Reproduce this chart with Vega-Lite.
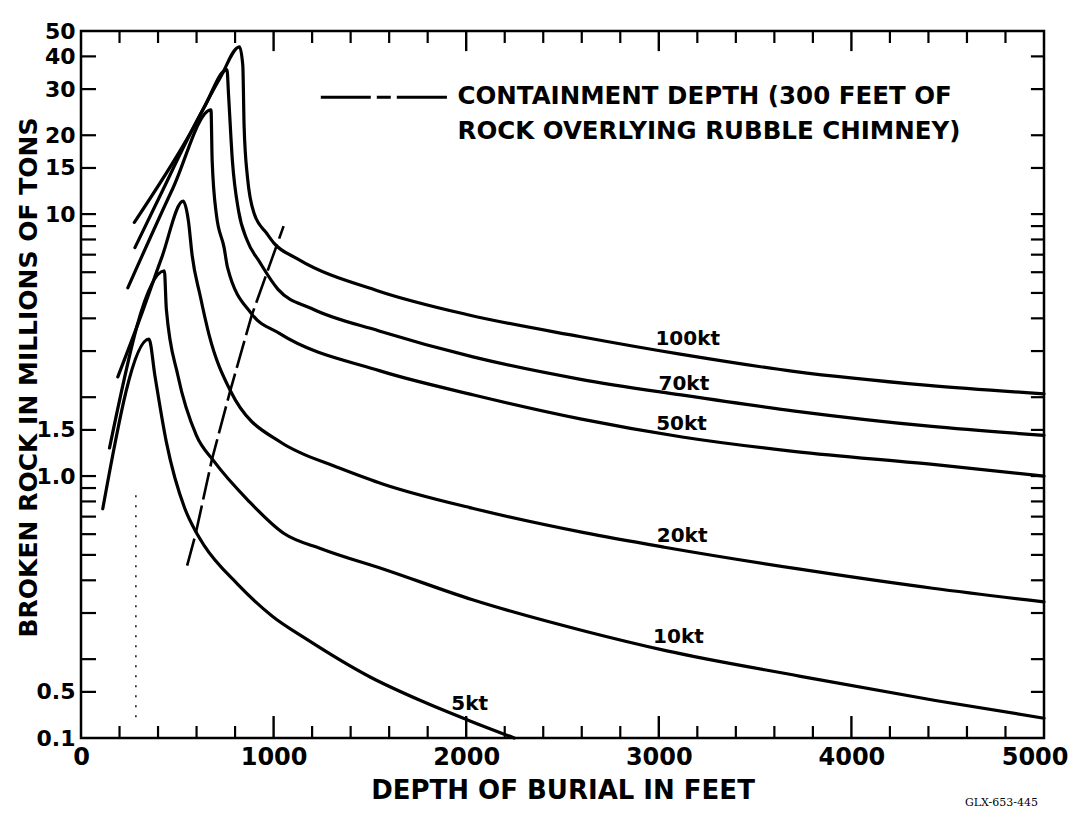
{
  "$schema": "https://vega.github.io/schema/vega-lite/v6.json",
  "width": 963,
  "height": 707,
  "autosize": {"type": "none"},
  "padding": {"left": 81, "top": 31, "right": 28, "bottom": 75},
  "background": "white",
  "title": {"text": "GLX-653-445", "orient": "bottom", "anchor": "end", "fontSize": 11, "fontWeight": "normal", "font": "DejaVu Serif", "color": "black", "offset": -6, "dx": -30},
  "config": {
    "view": {"stroke": "black", "strokeWidth": 2.5},
    "axis": {"domain": false, "grid": false, "ticks": false, "labelColor": "black", "titleColor": "black", "labelFont": "DejaVu Sans", "titleFont": "DejaVu Sans", "labelFontWeight": "bold", "titleFontWeight": "bold", "labelOverlap": false, "labelBound": false, "zindex": 1}
  },
  "datasets": {
    "curves": [
      {"s": "100kt", "i": 0, "x": 277, "y": 9.3},
      {"s": "100kt", "i": 1, "x": 553, "y": 19.5},
      {"s": "100kt", "i": 2, "x": 723, "y": 33.2},
      {"s": "100kt", "i": 3, "x": 823, "y": 43.5},
      {"s": "100kt", "i": 4, "x": 840, "y": 37},
      {"s": "100kt", "i": 5, "x": 847, "y": 21.5},
      {"s": "100kt", "i": 6, "x": 864, "y": 13.9},
      {"s": "100kt", "i": 7, "x": 900, "y": 10.0},
      {"s": "100kt", "i": 8, "x": 965, "y": 8.43},
      {"s": "100kt", "i": 9, "x": 1003, "y": 7.73},
      {"s": "100kt", "i": 10, "x": 1124, "y": 6.75},
      {"s": "100kt", "i": 11, "x": 1543, "y": 5.09},
      {"s": "100kt", "i": 12, "x": 2014, "y": 4.12},
      {"s": "100kt", "i": 13, "x": 2589, "y": 3.41},
      {"s": "100kt", "i": 14, "x": 3111, "y": 2.92},
      {"s": "100kt", "i": 15, "x": 3700, "y": 2.51},
      {"s": "100kt", "i": 16, "x": 4399, "y": 2.22},
      {"s": "100kt", "i": 17, "x": 5000, "y": 2.06},

      {"s": "70kt", "i": 0, "x": 280, "y": 7.45},
      {"s": "70kt", "i": 1, "x": 389, "y": 10.9},
      {"s": "70kt", "i": 2, "x": 638, "y": 25.4},
      {"s": "70kt", "i": 3, "x": 758, "y": 35.6},
      {"s": "70kt", "i": 4, "x": 766, "y": 28.6},
      {"s": "70kt", "i": 5, "x": 786, "y": 16.0},
      {"s": "70kt", "i": 6, "x": 818, "y": 10.3},
      {"s": "70kt", "i": 7, "x": 862, "y": 7.96},
      {"s": "70kt", "i": 8, "x": 927, "y": 6.57},
      {"s": "70kt", "i": 9, "x": 1023, "y": 5.16},
      {"s": "70kt", "i": 10, "x": 1197, "y": 4.36},
      {"s": "70kt", "i": 11, "x": 1548, "y": 3.58},
      {"s": "70kt", "i": 12, "x": 2035, "y": 2.85},
      {"s": "70kt", "i": 13, "x": 2594, "y": 2.34},
      {"s": "70kt", "i": 14, "x": 3116, "y": 2.04},
      {"s": "70kt", "i": 15, "x": 3706, "y": 1.77},
      {"s": "70kt", "i": 16, "x": 4404, "y": 1.55},
      {"s": "70kt", "i": 17, "x": 5000, "y": 1.43},

      {"s": "50kt", "i": 0, "x": 243, "y": 5.23},
      {"s": "50kt", "i": 1, "x": 476, "y": 12.5},
      {"s": "50kt", "i": 2, "x": 675, "y": 25.0},
      {"s": "50kt", "i": 3, "x": 681, "y": 16.0},
      {"s": "50kt", "i": 4, "x": 703, "y": 9.95},
      {"s": "50kt", "i": 5, "x": 743, "y": 7.45},
      {"s": "50kt", "i": 6, "x": 761, "y": 6.25},
      {"s": "50kt", "i": 7, "x": 886, "y": 4.16},
      {"s": "50kt", "i": 8, "x": 1028, "y": 3.51},
      {"s": "50kt", "i": 9, "x": 1553, "y": 2.52},
      {"s": "50kt", "i": 10, "x": 2039, "y": 2.04},
      {"s": "50kt", "i": 11, "x": 2599, "y": 1.65},
      {"s": "50kt", "i": 12, "x": 3121, "y": 1.41},
      {"s": "50kt", "i": 13, "x": 3710, "y": 1.24},
      {"s": "50kt", "i": 14, "x": 4411, "y": 1.11},
      {"s": "50kt", "i": 15, "x": 5000, "y": 1.0},

      {"s": "20kt", "i": 0, "x": 191, "y": 2.39},
      {"s": "20kt", "i": 1, "x": 314, "y": 4.14},
      {"s": "20kt", "i": 2, "x": 420, "y": 6.85},
      {"s": "20kt", "i": 3, "x": 530, "y": 11.2},
      {"s": "20kt", "i": 4, "x": 558, "y": 9.38},
      {"s": "20kt", "i": 5, "x": 577, "y": 6.96},
      {"s": "20kt", "i": 6, "x": 618, "y": 4.91},
      {"s": "20kt", "i": 7, "x": 665, "y": 3.46},
      {"s": "20kt", "i": 8, "x": 775, "y": 2.12},
      {"s": "20kt", "i": 9, "x": 1041, "y": 1.34},
      {"s": "20kt", "i": 10, "x": 1146, "y": 1.22},
      {"s": "20kt", "i": 11, "x": 1304, "y": 1.10},
      {"s": "20kt", "i": 12, "x": 1566, "y": 0.933},
      {"s": "20kt", "i": 13, "x": 2037, "y": 0.752},
      {"s": "20kt", "i": 14, "x": 2612, "y": 0.608},
      {"s": "20kt", "i": 15, "x": 3029, "y": 0.535},
      {"s": "20kt", "i": 16, "x": 3724, "y": 0.442},
      {"s": "20kt", "i": 17, "x": 4422, "y": 0.373},
      {"s": "20kt", "i": 18, "x": 5000, "y": 0.331},

      {"s": "10kt", "i": 0, "x": 148, "y": 1.28},
      {"s": "10kt", "i": 1, "x": 433, "y": 6.07},
      {"s": "10kt", "i": 2, "x": 443, "y": 4.35},
      {"s": "10kt", "i": 3, "x": 503, "y": 2.42},
      {"s": "10kt", "i": 4, "x": 599, "y": 1.43},
      {"s": "10kt", "i": 5, "x": 690, "y": 1.14},
      {"s": "10kt", "i": 6, "x": 866, "y": 0.81},
      {"s": "10kt", "i": 7, "x": 1052, "y": 0.605},
      {"s": "10kt", "i": 8, "x": 1250, "y": 0.527},
      {"s": "10kt", "i": 9, "x": 1576, "y": 0.44},
      {"s": "10kt", "i": 10, "x": 2033, "y": 0.337},
      {"s": "10kt", "i": 11, "x": 2623, "y": 0.255},
      {"s": "10kt", "i": 12, "x": 3042, "y": 0.215},
      {"s": "10kt", "i": 13, "x": 3736, "y": 0.172},
      {"s": "10kt", "i": 14, "x": 4436, "y": 0.139},
      {"s": "10kt", "i": 15, "x": 5000, "y": 0.119},

      {"s": "5kt", "i": 0, "x": 113, "y": 0.75},
      {"s": "5kt", "i": 1, "x": 353, "y": 3.33},
      {"s": "5kt", "i": 2, "x": 384, "y": 2.41},
      {"s": "5kt", "i": 3, "x": 443, "y": 1.35},
      {"s": "5kt", "i": 4, "x": 539, "y": 0.752},
      {"s": "5kt", "i": 5, "x": 595, "y": 0.615},
      {"s": "5kt", "i": 6, "x": 638, "y": 0.545},
      {"s": "5kt", "i": 7, "x": 814, "y": 0.386},
      {"s": "5kt", "i": 8, "x": 995, "y": 0.291},
      {"s": "5kt", "i": 9, "x": 1169, "y": 0.239},
      {"s": "5kt", "i": 10, "x": 1501, "y": 0.171},
      {"s": "5kt", "i": 11, "x": 1763, "y": 0.139},
      {"s": "5kt", "i": 12, "x": 2010, "y": 0.117},
      {"s": "5kt", "i": 13, "x": 2250, "y": 0.1}
    ],
    "containment": [
      {"i": 0, "x": 551, "y": 0.455},
      {"i": 1, "x": 595, "y": 0.6},
      {"i": 2, "x": 679, "y": 1.15},
      {"i": 3, "x": 775, "y": 2.12},
      {"i": 4, "x": 886, "y": 4.1},
      {"i": 5, "x": 1052, "y": 9.0}
    ],
    "dotted": [
      {"x": 285, "y": 0.12, "y2": 0.9}
    ],
    "legendLine": [
      {"x": 1245, "x2": 1900, "y": 27.9}
    ],
    "curveLabels": [
      {"label": "100kt", "x": 3150, "y": 3.17},
      {"label": "70kt", "x": 3130, "y": 2.13},
      {"label": "50kt", "x": 3118, "y": 1.50},
      {"label": "20kt", "x": 3121, "y": 0.558},
      {"label": "10kt", "x": 3102, "y": 0.230},
      {"label": "5kt", "x": 2018, "y": 0.128}
    ],
    "legendText": [
      {"label": "CONTAINMENT DEPTH (300 FEET OF", "x": 1955, "y": 28},
      {"label": "ROCK OVERLYING RUBBLE CHIMNEY)", "x": 1955, "y": 20.6}
    ],
    "xMinorTicks": [
      {"v": 200}, {"v": 400}, {"v": 600}, {"v": 800}, {"v": 1200}, {"v": 1400}, {"v": 1600}, {"v": 1800},
      {"v": 2200}, {"v": 2400}, {"v": 2600}, {"v": 2800}, {"v": 3200}, {"v": 3400}, {"v": 3600}, {"v": 3800},
      {"v": 4200}, {"v": 4400}, {"v": 4600}, {"v": 4800}
    ],
    "xMajorTicks": [
      {"v": 1000}, {"v": 2000}, {"v": 3000}, {"v": 4000}
    ],
    "yTicks": [
      {"v": 40}, {"v": 30}, {"v": 20}, {"v": 15}, {"v": 10}, {"v": 9}, {"v": 8}, {"v": 7}, {"v": 6}, {"v": 5},
      {"v": 4}, {"v": 3}, {"v": 2}, {"v": 1.5}, {"v": 1}, {"v": 0.9}, {"v": 0.8}, {"v": 0.7}, {"v": 0.6}, {"v": 0.5},
      {"v": 0.4}, {"v": 0.3}, {"v": 0.2}, {"v": 0.15}
    ]
  },
  "resolve": {"axis": {"x": "independent", "y": "independent"}},
  "layer": [
    {
      "data": {"name": "curves"},
      "mark": {"type": "line", "color": "black", "strokeWidth": 3.2, "interpolate": "monotone", "strokeCap": "round", "strokeJoin": "round"},
      "encoding": {
        "x": {"field": "x", "type": "quantitative", "scale": {"domain": [0, 5000], "nice": false, "zero": false},
          "axis": {"orient": "bottom", "values": [0, 1000, 2000, 3000, 4000], "format": "d", "labelPadding": 7, "labelFontSize": 24, "labelFlush": false, "title": "DEPTH OF BURIAL IN FEET", "titleFontSize": 26, "titlePadding": 8}},
        "y": {"field": "y", "type": "quantitative", "scale": {"type": "log", "domain": [0.1, 50], "nice": false},
          "axis": {"orient": "left", "values": [50, 40, 30, 20, 15, 10, 1.5, 1, 0.15, 0.1],
            "labelExpr": "indexof([50,40,30,20,15,10], datum.value) >= 0 ? '' + datum.value : datum.value == 1.5 ? '1.5' : datum.value == 1 ? '1.0' : datum.value == 0.15 ? '0.5' : datum.value == 0.1 ? '0.1' : ''",
            "labelFlush": false, "labelPadding": 6, "labelFontSize": 22, "title": "BROKEN ROCK IN MILLIONS OF TONS", "titleFontSize": 25, "titleX": -40, "titleY": 346}},
        "detail": {"field": "s"},
        "order": {"field": "i"}
      }
    },
    {
      "data": {"name": "curves"},
      "mark": {"type": "point", "opacity": 0},
      "encoding": {
        "x": {"field": "x", "type": "quantitative", "scale": {"domain": [0, 5000], "nice": false, "zero": false},
          "axis": {"orient": "bottom", "values": [0, 5000], "labelPadding": 7, "labelFontSize": 24, "labelExpr": "datum.value == 5000 ? '5000' : ''", "labelFlush": true, "labelFlushOffset": 24, "title": null}},
        "y": {"field": "y", "type": "quantitative", "scale": {"type": "log", "domain": [0.1, 50], "nice": false}, "axis": null}
      }
    },
    {
      "data": {"name": "xMinorTicks"},
      "mark": {"type": "rule", "color": "black", "strokeWidth": 2.2},
      "encoding": {
        "x": {"field": "v", "type": "quantitative", "scale": {"domain": [0, 5000], "nice": false, "zero": false}, "axis": null},
        "y": {"datum": 0.1, "type": "quantitative", "scale": {"type": "log", "domain": [0.1, 50], "nice": false}, "axis": null},
        "y2": {"datum": 0.1111}
      }
    },
    {
      "data": {"name": "xMajorTicks"},
      "mark": {"type": "rule", "color": "black", "strokeWidth": 2.4},
      "encoding": {
        "x": {"field": "v", "type": "quantitative", "scale": {"domain": [0, 5000], "nice": false, "zero": false}, "axis": null},
        "y": {"datum": 0.1, "type": "quantitative", "scale": {"type": "log", "domain": [0.1, 50], "nice": false}, "axis": null},
        "y2": {"datum": 0.1213}
      }
    },
    {
      "data": {"name": "xMinorTicks"},
      "mark": {"type": "rule", "color": "black", "strokeWidth": 2.2},
      "encoding": {
        "x": {"field": "v", "type": "quantitative", "scale": {"domain": [0, 5000], "nice": false, "zero": false}, "axis": null},
        "y": {"datum": 50, "type": "quantitative", "scale": {"type": "log", "domain": [0.1, 50], "nice": false}, "axis": null},
        "y2": {"datum": 45.0}
      }
    },
    {
      "data": {"name": "xMajorTicks"},
      "mark": {"type": "rule", "color": "black", "strokeWidth": 2.4},
      "encoding": {
        "x": {"field": "v", "type": "quantitative", "scale": {"domain": [0, 5000], "nice": false, "zero": false}, "axis": null},
        "y": {"datum": 50, "type": "quantitative", "scale": {"type": "log", "domain": [0.1, 50], "nice": false}, "axis": null},
        "y2": {"datum": 41.9}
      }
    },
    {
      "data": {"name": "yTicks"},
      "mark": {"type": "rule", "color": "black", "strokeWidth": 2.2},
      "encoding": {
        "y": {"field": "v", "type": "quantitative", "scale": {"type": "log", "domain": [0.1, 50], "nice": false}, "axis": null},
        "x": {"datum": 78, "type": "quantitative", "scale": {"domain": [0, 5000], "nice": false, "zero": false}, "axis": null},
        "x2": {"datum": 1}
      }
    },
    {
      "data": {"name": "yTicks"},
      "mark": {"type": "rule", "color": "black", "strokeWidth": 2.2},
      "encoding": {
        "y": {"field": "v", "type": "quantitative", "scale": {"type": "log", "domain": [0.1, 50], "nice": false}, "axis": null},
        "x": {"datum": 5000, "type": "quantitative", "scale": {"domain": [0, 5000], "nice": false, "zero": false}, "axis": null},
        "x2": {"datum": 4932}
      }
    },
    {
      "data": {"name": "containment"},
      "mark": {"type": "line", "color": "black", "strokeWidth": 2.6, "strokeDash": [28, 6]},
      "encoding": {
        "x": {"field": "x", "type": "quantitative", "scale": {"domain": [0, 5000], "nice": false, "zero": false}, "axis": null},
        "y": {"field": "y", "type": "quantitative", "scale": {"type": "log", "domain": [0.1, 50], "nice": false}, "axis": null},
        "order": {"field": "i"}
      }
    },
    {
      "data": {"name": "dotted"},
      "mark": {"type": "rule", "color": "black", "strokeWidth": 1.4, "strokeDash": [2, 8]},
      "encoding": {
        "x": {"field": "x", "type": "quantitative", "scale": {"domain": [0, 5000], "nice": false, "zero": false}, "axis": null},
        "y": {"field": "y", "type": "quantitative", "scale": {"type": "log", "domain": [0.1, 50], "nice": false}, "axis": null},
        "y2": {"field": "y2"}
      }
    },
    {
      "data": {"name": "legendLine"},
      "mark": {"type": "rule", "color": "black", "strokeWidth": 3, "strokeDash": [50, 6, 14, 6, 200, 0]},
      "encoding": {
        "x": {"field": "x", "type": "quantitative", "scale": {"domain": [0, 5000], "nice": false, "zero": false}, "axis": null},
        "x2": {"field": "x2"},
        "y": {"field": "y", "type": "quantitative", "scale": {"type": "log", "domain": [0.1, 50], "nice": false}, "axis": null}
      }
    },
    {
      "data": {"name": "curveLabels"},
      "mark": {"type": "text", "color": "black", "font": "DejaVu Sans", "fontWeight": "bold", "fontSize": 20, "align": "center", "baseline": "alphabetic"},
      "encoding": {
        "x": {"field": "x", "type": "quantitative", "scale": {"domain": [0, 5000], "nice": false, "zero": false}, "axis": null},
        "y": {"field": "y", "type": "quantitative", "scale": {"type": "log", "domain": [0.1, 50], "nice": false}, "axis": null},
        "text": {"field": "label"}
      }
    },
    {
      "data": {"name": "legendText"},
      "mark": {"type": "text", "color": "black", "font": "DejaVu Sans", "fontWeight": "bold", "fontSize": 24.5, "align": "left", "baseline": "middle"},
      "encoding": {
        "x": {"field": "x", "type": "quantitative", "scale": {"domain": [0, 5000], "nice": false, "zero": false}, "axis": null},
        "y": {"field": "y", "type": "quantitative", "scale": {"type": "log", "domain": [0.1, 50], "nice": false}, "axis": null},
        "text": {"field": "label"}
      }
    }
  ]
}
